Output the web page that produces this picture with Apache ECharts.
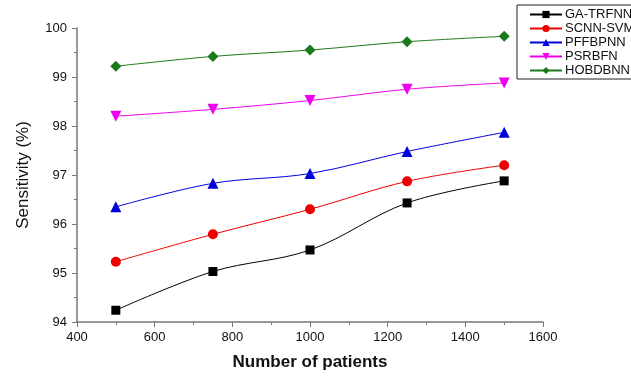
<!DOCTYPE html>
<html><head><meta charset="utf-8">
<script src="https://cdn.jsdelivr.net/npm/echarts@6/dist/echarts.min.js"></script>
<style>html,body{margin:0;padding:0;background:#fff}#c{width:631px;height:376px}</style>
</head><body><div id="c"></div>
<script>
const patients = [500, 750, 1000, 1250, 1500];
const seriesNames = ['GA-TRFNN', 'SCNN-SVM', 'PFFBPNN', 'PSRBFN', 'HOBDBNN'];
const gaTrfnn = [94.24, 95.03, 95.47, 96.43, 96.88];
const scnnSvm = [95.23, 95.79, 96.30, 96.87, 97.20];
const pffbpnn = [96.35, 96.83, 97.03, 97.48, 97.87];
const psrbfn  = [98.20, 98.34, 98.52, 98.75, 98.88];
const hobdbnn = [99.22, 99.42, 99.55, 99.72, 99.83];
const xTicks = [400, 600, 800, 1000, 1200, 1400, 1600];
const yTicks = [94, 95, 96, 97, 98, 99, 100];

const colors = ['#000000', '#ee0000', '#0000dd', '#ee00ee', '#1a7a1a'];
const symbols = ['rect', 'circle', 'triangle', 'path://M0,0 L10,0 L5,9 Z', 'diamond'];
const sizes = [9, 10, 11, 11, 11];
const values = [gaTrfnn, scnnSvm, pffbpnn, psrbfn, hobdbnn];

const chart = echarts.init(document.getElementById('c'), null, {renderer: 'canvas'});
const font = 'Liberation Sans, Arial, sans-serif';
chart.setOption({
  animation: false,
  backgroundColor: '#fff',
  grid: {left: 77, right: 88, top: 28, bottom: 48, containLabel: false},
  legend: {
    left: 517, top: 5,
    orient: 'vertical',
    itemWidth: 32, itemHeight: 9, itemGap: 1,
    padding: [3, 6, 2, 12],
    borderColor: '#222', borderWidth: 1,
    textStyle: {fontFamily: font, fontSize: 13, lineHeight: 12, color: '#111', padding: [0,0,0,-2]},
    data: seriesNames
  },
  xAxis: {
    type: 'value', min: xTicks[0], max: xTicks[xTicks.length-1], interval: 200,
    name: 'Number of patients', nameLocation: 'middle', nameGap: 32,
    nameTextStyle: {fontFamily: font, fontSize: 17, fontWeight: 'bold', color: '#111'},
    axisLine: {show: true, lineStyle: {color: '#777', width: 1.5}},
    axisTick: {show: true, inside: false, length: 5, lineStyle: {color: '#777'}},
    minorTick: {show: true, splitNumber: 2, length: 3, lineStyle: {color: '#777'}},
    axisLabel: {fontFamily: font, fontSize: 13, color: '#111', margin: 9, formatter: v => String(v)},
    splitLine: {show: false}
  },
  yAxis: {
    type: 'value', min: yTicks[0], max: yTicks[yTicks.length-1], interval: 1,
    name: 'Sensitivity (%)', nameLocation: 'middle', nameGap: 45, nameRotate: 90,
    nameTextStyle: {fontFamily: font, fontSize: 17, color: '#111'},
    axisLine: {show: true, lineStyle: {color: '#777', width: 1.5}},
    axisTick: {show: true, inside: false, length: 5, lineStyle: {color: '#777'}},
    minorTick: {show: true, splitNumber: 2, length: 3, lineStyle: {color: '#777'}},
    axisLabel: {fontFamily: font, fontSize: 13, color: '#111', margin: 10},
    splitLine: {show: false}
  },
  series: seriesNames.map((n, i) => ({
    name: n, type: 'line', smooth: 0.35,
    data: patients.map((p, j) => [p, values[i][j]]),
    symbol: symbols[i], symbolSize: sizes[i],
    itemStyle: {color: colors[i]},
    lineStyle: {color: colors[i], width: 1}
  }))
});
</script></body></html>
